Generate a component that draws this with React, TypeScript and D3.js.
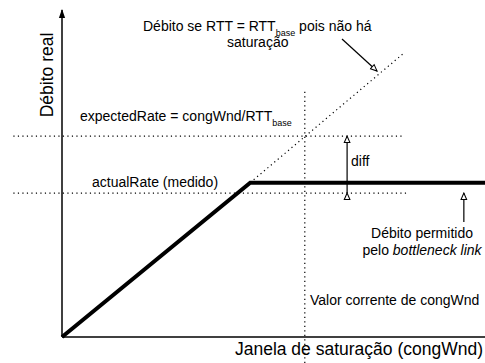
import React from 'react';
import { scaleLinear, line } from 'd3';

// conceptual units: congWnd on x (0-100), throughput on y (0-100)
const actualWnd = [0, 44.5, 100];
const actualThroughput = [0, 47.5, 47.5];
const baseRttWnd = [44.5, 80.5];
const baseRttRate = [47.5, 87];
const expectedRate = 61.8;
const measuredRate = 44.3;
const currentCongWnd = 57.4;
const refLineSpan = [-11.5, 80.5];
const measuredLineSpan = [-11.5, 81.5];
const currentWndSpan = [-8, 76];
const diffAt = 67.4;
const bottleneckArrowAt = 95;
const bottleneckArrowSpan = [44.3, 35.4];

const W = 485;
const H = 363;
const font = '"Liberation Sans", Arial, sans-serif';

const App = () => {
  const x = scaleLinear().domain([0, 100]).range([62, 485]);
  const y = scaleLinear().domain([0, 100]).range([337, 12]);

  const path = line<[number, number]>()
    .x((d) => x(d[0]))
    .y((d) => y(d[1]));

  const thick = path(actualWnd.map((w, i) => [w, actualThroughput[i]]));
  const diag = path(baseRttWnd.map((w, i) => [w, baseRttRate[i]]));

  const dotted = { stroke: '#000', strokeWidth: 1.2, strokeDasharray: '1.2,3.3', fill: 'none' };

  return (
    <svg width={W} height={H} style={{ position: 'absolute', left: 0, top: 0, background: '#fff' }} fontFamily={font}>
      <defs>
        <marker id="open" viewBox="0 0 10 10" refX="9" refY="5" markerWidth="8" markerHeight="8" markerUnits="userSpaceOnUse" orient="auto">
          <path d="M1,1.5 L9,5 L1,8.5 Z" fill="#fff" stroke="#000" strokeWidth="1.3" />
        </marker>
        <marker id="solid" viewBox="0 0 10 10" refX="9" refY="5" markerWidth="9" markerHeight="9" markerUnits="userSpaceOnUse" orient="auto">
          <path d="M0,1.5 L10,5 L0,8.5 Z" fill="#000" />
        </marker>
      </defs>

      {/* reference lines */}
      <line x1={x(refLineSpan[0])} x2={x(refLineSpan[1])} y1={y(expectedRate)} y2={y(expectedRate)} {...dotted} />
      <line x1={x(measuredLineSpan[0])} x2={x(measuredLineSpan[1])} y1={y(measuredRate)} y2={y(measuredRate)} {...dotted} />
      <line x1={x(currentCongWnd)} x2={x(currentCongWnd)} y1={y(currentWndSpan[0])} y2={y(currentWndSpan[1])} {...dotted} />
      <path d={diag || ''} {...dotted} />

      {/* axes */}
      <line x1={x(0)} x2={x(0)} y1={y(0)} y2={y(100) - 2} stroke="#000" strokeWidth={1.5} markerEnd="url(#solid)" />
      <line x1={x(0)} x2={W} y1={y(0)} y2={y(0)} stroke="#000" strokeWidth={1.5} />

      {/* actual throughput */}
      <path d={thick || ''} fill="none" stroke="#000" strokeWidth={4} strokeLinejoin="miter" />

      {/* diff arrow */}
      <line x1={x(diffAt)} x2={x(diffAt)} y1={y(measuredRate)} y2={y(expectedRate)} stroke="#000" strokeWidth={1.2}
        markerStart="url(#open)" markerEnd="url(#open)" />
      {/* bottleneck arrow */}
      <line x1={x(bottleneckArrowAt)} x2={x(bottleneckArrowAt)} y1={y(bottleneckArrowSpan[1])} y2={y(bottleneckArrowSpan[0])}
        stroke="#000" strokeWidth={1.2} markerEnd="url(#open)" />
      {/* title arrow */}
      <line x1={342} y1={39} x2={377} y2={71} stroke="#000" strokeWidth={1.2} markerEnd="url(#open)" />

      <g fontSize={14} fill="#000">
        <text x={143} y={31}>
          Débito se RTT = RTT<tspan fontSize={9} dy={5}>base</tspan><tspan dy={-5}> pois não há</tspan>
        </text>
        <text x={227} y={47}>saturação</text>
        <text x={80} y={121}>
          expectedRate = congWnd/RTT<tspan fontSize={9} dy={5}>base</tspan>
        </text>
        <text x={92} y={187}>actualRate (medido)</text>
        <text x={351} y={166}>diff</text>
        <text x={422} y={238} textAnchor="middle">Débito permitido</text>
        <text x={422} y={255} textAnchor="middle">
          pelo <tspan fontStyle="italic">bottleneck link</tspan>
        </text>
        <text x={310} y={305}>Valor corrente de congWnd</text>
      </g>
      <text x={483} y={355} fontSize={17.5} textAnchor="end">Janela de saturação (congWnd)</text>
      <text transform="translate(53,75) rotate(-90)" fontSize={17.5} textAnchor="middle">Débito real</text>
    </svg>
  );
};

export default App;
